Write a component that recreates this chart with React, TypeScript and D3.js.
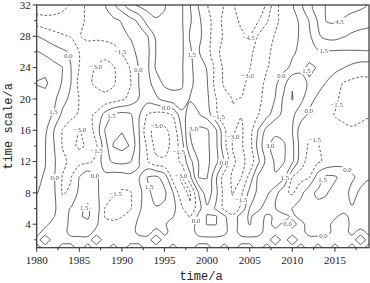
import React, { useMemo } from "react";
import * as d3 from "d3";

// --- Data: wavelet coefficients ---
// one grid column per year
const years = [
  1980, 1981, 1982, 1983, 1984, 1985, 1986, 1987, 1988, 1989,
  1990, 1991, 1992, 1993, 1994, 1995, 1996, 1997, 1998, 1999,
  2000, 2001, 2002, 2003, 2004, 2005, 2006, 2007, 2008, 2009,
  2010, 2011, 2012, 2013, 2014, 2015, 2016, 2017, 2018, 2019,
];

// time scale of each grid row, top to bottom
const scales = [32, 30, 28, 26, 24, 22, 20, 18, 16, 14, 12, 10, 8, 6, 5, 4, 3, 2, 1];

const s32 = [-4.0, -3.8, -3.5, -3.3, -2.9, -2.0, -1.2, -0.7, -0.1, 1.2, 2.5, 4.0, 4.8, 5.0, 4.9, 4.6, 3.8, 3.2, 1.55, -0.1, -1.45, -2.4, -3.1, -4.4, -5.0, -5.2, -5.0, -4.4, -2.0, -0.8, -0.2, 1.2, 2.6, 3.8, 4.6, 4.9, 5.0, 5.0, 4.8, 4.4];
const s30 = [-2.4, -2.6, -2.7, -2.6, -2.3, -1.8, -1.3, -0.9, -0.6, -0.3, 0.1, 0.9, 1.8, 3.8, 4.4, 4.3, 3.8, 3.2, 1.7, 0.3, -0.9, -2.2, -3.4, -4.1, -4.7, -4.9, -4.6, -3.2, -1.8, -1.0, -0.4, 0.2, 1.6, 3.1, 4.6, 4.7, 4.4, 4.0, 3.8, 3.6];
const s28 = [0.05, -0.4, -0.9, -1.3, -1.6, -1.55, -1.3, -1.2, -1.0, -0.7, -0.3, 0.1, 0.8, 1.4, 3.3, 4.0, 3.9, 3.4, 1.3, 0.5, -1.0, -2.2, -3.2, -3.9, -4.3, -4.6, -2.8, -2.0, -1.4, -0.9, -0.5, 0.2, 1.2, 2.8, 3.4, 3.5, 3.1, 2.7, 2.4, 2.2];
const s26 = [1.6, 1.2, 0.7, 0.3, -0.2, -1.55, -2.0, -2.4, -2.6, -2.3, -1.4, -0.5, 0.4, 1.1, 3.05, 3.6, 3.7, 3.3, 1.8, 0.1, -1.0, -2.4, -3.7, -4.0, -3.9, -3.3, -2.5, -1.8, -1.1, -0.7, -0.2, 0.3, 0.9, 1.3, 1.35, 1.3, 1.3, 1.35, 1.4, 1.4];
const s24 = [2.7, 2.5, 2.0, 1.55, 0.05, -1.55, -2.6, -3.1, -3.4, -3.1, -2.4, -1.4, 0.1, 1.2, 3.2, 3.6, 3.6, 3.2, 1.8, 0.8, -0.1, -1.9, -3.3, -3.8, -3.6, -3.05, -2.2, -1.6, -1.0, -0.4, 0.3, 1.2, 1.8, 1.4, 0.9, 0.4, 0.05, -0.4, -0.8, -1.0];
const s22 = [3.05, 3.3, 2.3, 1.4, 0.05, -2.0, -2.8, -3.2, -3.5, -3.2, -2.2, -1.6, 0.05, 1.0, 2.2, 3.3, 3.4, 3.2, 1.9, 0.8, 0.1, -2.0, -3.2, -3.6, -3.4, -2.6, -2.0, -1.2, -0.3, 1.0, 2.9, 2.0, 1.3, 0.6, -0.1, -0.8, -1.6, -1.9, -2.0, -1.9];
const s20 = [2.6, 2.4, 1.9, 0.6, -0.4, -1.55, -2.2, -2.5, -2.6, -2.3, -1.8, -1.0, 0.05, 0.6, 1.2, 2.0, 2.5, 2.6, 1.4, 1.0, 0.3, -1.4, -2.5, -3.05, -2.95, -2.6, -1.9, -0.9, 0.05, 1.8, 3.1, 1.9, 0.5, -0.3, -0.9, -1.3, -1.8, -2.2, -2.2, -2.0];
const s18 = [2.2, 1.9, 1.4, -0.3, -1.0, -1.7, -1.8, -1.3, 0.5, 1.7, 2.0, 1.7, 0.2, -1.6, -2.0, -2.0, -1.4, 1.0, 2.0, 1.6, 0.8, -1.2, -2.5, -2.9, -2.95, -2.5, -1.55, -0.5, 0.9, 1.9, 1.8, 0.7, -0.3, -0.8, -1.2, -1.55, -1.7, -1.8, -1.7, -1.6];
const s16 = [2.0, 1.8, 0.05, -1.55, -2.5, -3.05, -2.6, -0.8, 1.55, 2.6, 2.9, 2.3, 0.05, -2.6, -3.4, -3.3, -2.5, 0.05, 3.05, 3.4, 3.2, 1.8, -1.2, -2.9, -3.2, -2.2, 0.05, 2.0, 2.8, 2.5, 1.55, -0.8, -1.3, -1.3, -1.2, -1.2, -1.3, -1.4, -1.3, -1.2];
const s14 = [1.8, 1.55, 0.1, -1.55, -2.6, -3.3, -2.8, -1.7, 0.8, 3.1, 3.5, 2.9, 0.2, -1.8, -3.5, -3.5, -2.6, -0.8, 2.8, 3.5, 3.3, 2.0, -1.0, -3.1, -3.2, -2.1, 0.5, 2.8, 3.3, 3.2, 1.9, -0.7, -1.7, -1.6, -0.9, -0.8, -0.8, -0.8, -0.7, -0.6];
const s12 = [1.8, 1.55, 0.3, -1.2, -1.8, -2.0, -1.8, -1.2, 1.0, 1.7, 1.9, 1.6, 0.05, -1.4, -2.6, -2.8, -2.4, -1.2, 1.0, 3.05, 3.4, 2.0, 0.05, -2.8, -3.4, -2.5, -0.3, 2.0, 3.2, 3.1, 1.8, -1.0, -2.0, -1.7, -1.2, -0.8, -0.5, -0.3, -0.1, -0.1];
const s10 = [1.7, 1.4, 0.2, -1.55, -1.6, 0.05, 1.2, 0.1, -0.5, -0.8, -0.8, -0.5, -0.1, 1.55, 1.8, 0.9, -2.2, -3.2, -0.4, 3.05, 3.05, 0.3, -2.2, -3.2, -3.05, -1.0, 1.8, 2.8, 2.9, 1.9, -1.55, -2.0, -1.6, 0.8, 1.8, 1.7, 0.9, 0.1, -0.2, -0.1];
const s8 = [1.55, 1.1, 0.3, -1.6, -1.3, 0.4, 1.1, 0.3, -0.8, -1.4, -1.7, -1.6, -0.6, 1.2, 2.0, 1.8, 0.05, -2.6, -3.2, 0.05, 2.5, 0.5, -2.0, -3.1, -1.8, 0.5, 1.9, 1.8, 0.6, -1.2, -1.7, -0.5, 1.2, 1.7, 1.6, 1.0, 0.3, -0.2, 0.1, 0.4];
const s6 = [1.0, 0.6, 0.2, -0.6, 0.1, 1.3, 1.7, 0.8, -1.55, -1.9, -2.0, -1.6, -0.3, 1.0, 1.4, 1.2, 0.5, -1.2, -2.8, -0.5, 1.2, -0.2, -1.8, -2.5, -1.2, 1.55, 1.8, 0.8, 0.05, -0.8, 0.05, 0.9, 1.2, 1.2, 1.0, 0.6, 0.3, 0.05, 0.2, 0.1];
const s5 = [0.8, 0.4, 0.05, -0.5, 0.2, 1.4, 1.7, 0.6, -1.6, -1.8, -1.55, -1.0, 0.05, 0.8, 0.9, 0.5, 0.05, -0.8, -1.6, 0.4, 1.6, 1.7, 0.3, -1.2, 0.8, 1.7, 0.9, -0.3, 0.2, 0.4, -0.2, 0.3, 0.6, 0.8, 0.5, 0.1, -0.2, 0.2, 0.4, 0.2];
const s4 = [0.6, 0.2, -0.3, -0.6, 0.3, 1.0, 1.2, 0.2, -1.0, -1.2, -0.8, -0.4, 0.2, 0.5, 0.4, 0.1, -0.4, -0.6, -0.8, 0.6, 1.6, 1.6, 0.4, -0.8, 0.6, 1.6, 0.6, -0.4, 0.3, -0.2, 0.3, -0.3, 0.4, 0.6, 0.2, -0.2, -0.4, 0.2, 0.5, 0.3];
const s3 = [0.3, -0.3, -0.3, -0.4, 0.3, 0.4, 0.4, -0.3, -0.4, -0.4, -0.3, -0.3, 0.2, 0.3, -0.3, 0.2, -0.3, -0.3, -0.4, 0.3, 0.5, 0.5, 0.2, -0.4, 0.3, 0.5, 0.3, -0.3, -0.3, -0.2, -0.3, -0.3, 0.3, 0.3, 0.2, -0.2, -0.3, 0.2, -0.3, 0.2];
const s2 = [-0.3, 0.5, -0.3, -0.3, -0.3, -0.3, -0.3, 0.5, -0.3, -0.3, -0.3, -0.3, -0.3, -0.3, 0.5, -0.3, -0.3, -0.3, -0.3, -0.3, -0.3, -0.3, -0.3, -0.3, -0.3, -0.3, -0.3, -0.3, 0.5, -0.3, 0.5, -0.3, -0.3, -0.3, -0.3, -0.3, -0.3, -0.3, 0.5, -0.3];
const s1 = [0.3, -0.3, -0.3, 0.3, 0.3, -0.3, 0.3, -0.3, -0.3, 0.3, -0.3, 0.3, 0.3, -0.3, -0.3, -0.3, 0.3, -0.3, -0.3, 0.3, 0.3, -0.3, 0.3, -0.3, 0.3, 0.3, -0.3, 0.3, -0.3, -0.3, -0.3, 0.3, -0.3, 0.3, -0.3, 0.3, -0.3, 0.3, -0.3, 0.3];

const rows = [s32, s30, s28, s26, s24, s22, s20, s18, s16, s14, s12, s10, s8, s6, s5, s4, s3, s2, s1];

const levels = [-4.5, -3, -1.5, 0, 1.5, 3, 4.5];

const xTicks = [1980, 1985, 1990, 1995, 2000, 2005, 2010, 2015];
const xMinor = [1982.5, 1987.5, 1992.5, 1997.5, 2002.5, 2007.5, 2012.5, 2017.5];
const yTicks = [4, 8, 12, 16, 20, 24, 28, 32];
const yMinor = [2, 6, 10, 14, 18, 22, 26, 30];

const W = 370;
const H = 283;
const L = 36.7;
const R = 369;
const T = 5;
const B = 247.7;

const App: React.FC = () => {
  const x = d3.scaleLinear().domain([1980, 2019]).range([L, R]);
  const y = d3.scaleLinear().domain([1, 32]).range([B, T]);

  const { lines, labels } = useMemo(() => {
    const nx = years.length;
    const ny = scales.length;
    // grid index -> data coordinates (cell centres sit at i + 0.5)
    const colToYear = d3.scaleLinear().domain([0.5, nx - 0.5]).range([years[0], years[nx - 1]]);
    const rowToScale = d3.scaleLinear().domain(scales.map((_, i) => i + 0.5)).range(scales);

    const contours = d3.contours().size([nx, ny]).thresholds(levels)(rows.flat());
    const fmt = d3.format(".1f");
    const smooth = d3.line().curve(d3.curveCatmullRomClosed.alpha(0.5));
    const straight = d3.line().curve(d3.curveLinearClosed);

    const inside = (p: number[]) => p[0] > L + 4 && p[0] < R - 5 && p[1] > T + 5 && p[1] < B - 4;

    const outLines: { d: string; value: number }[] = [];
    const outLabels: { x: number; y: number; text: string; w: number }[] = [];
    const boxes: { x0: number; y0: number; x1: number; y1: number }[] = [];

    const tryLabel = (px: number, py: number, text: string) => {
      const w = text.length * 3.4 + 1;
      const b = { x0: px - w / 2 - 3, y0: py - 6, x1: px + w / 2 + 3, y1: py + 6 };
      if (boxes.some((o) => b.x0 < o.x1 && b.x1 > o.x0 && b.y0 < o.y1 && b.y1 > o.y0)) return;
      boxes.push(b);
      outLabels.push({ x: px, y: py, text, w });
    };

    contours.forEach((c) => {
      c.coordinates.forEach((poly) =>
        poly.forEach((ring) => {
          const pts = ring.map((p) => [x(colToYear(p[0])), y(rowToScale(p[1]))]);
          const uniq = pts.slice(0, -1);
          if (uniq.length < 2) return;
          let perim = 0;
          for (let i = 1; i < pts.length; i++) perim += Math.hypot(pts[i][0] - pts[i - 1][0], pts[i][1] - pts[i - 1][1]);
          // small loops keep their corners (diamonds), long lines are smoothed
          const gen = perim < 70 ? straight : smooth;
          outLines.push({ d: gen(uniq as [number, number][]) || "", value: c.value });

          // split into visible runs to put labels on
          const start = uniq.findIndex((p) => !inside(p));
          const seq = start < 0 ? uniq.concat([uniq[0]]) : uniq.slice(start).concat(uniq.slice(0, start + 1));
          const runs: number[][][] = [];
          let cur: number[][] = [];
          seq.forEach((p) => {
            if (inside(p)) cur.push(p);
            else {
              if (cur.length > 1) runs.push(cur);
              cur = [];
            }
          });
          if (cur.length > 1) runs.push(cur);

          runs.forEach((run) => {
            const cum = [0];
            for (let i = 1; i < run.length; i++) {
              cum.push(cum[i - 1] + Math.hypot(run[i][0] - run[i - 1][0], run[i][1] - run[i - 1][1]));
            }
            const len = cum[cum.length - 1];
            if (len < 22) return;
            const spots = len < 150 ? [len * 0.5] : d3.range(60, len - 25, 125);
            spots.forEach((s) => {
              const i = Math.max(1, d3.bisectLeft(cum, s));
              const t = (s - cum[i - 1]) / (cum[i] - cum[i - 1] || 1);
              const px = run[i - 1][0] + t * (run[i][0] - run[i - 1][0]);
              const py = run[i - 1][1] + t * (run[i][1] - run[i - 1][1]);
              tryLabel(px, py, fmt(c.value));
            });
          });
        })
      );
    });
    return { lines: outLines, labels: outLabels };
  }, []);

  return (
    <svg width={W} height={H} style={{ display: "block", position: "absolute", left: 0, top: 0, background: "#fff" }}>
      <defs>
        <clipPath id="plot-clip">
          <rect x={L} y={T} width={R - L} height={B - T} />
        </clipPath>
        {/* identity filter: labels get drawn off-screen, so they are greyscale antialiased */}
        <filter id="flat" x="0" y="0" width="1" height="1">
          <feColorMatrix type="identity" />
        </filter>
      </defs>

      <g clipPath="url(#plot-clip)">
        {lines.map((l, i) => (
          <path
            key={i}
            d={l.d}
            fill="none"
            stroke="#3a3a3a"
            strokeWidth={0.8}
            strokeDasharray={l.value < 0 ? "2.6,1.8" : undefined}
          />
        ))}
      </g>
      <g filter="url(#flat)">
        {labels.map((lb, i) => (
          <g key={i}>
            <rect x={lb.x - lb.w / 2} y={lb.y - 3.5} width={lb.w} height={7} fill="#fff" />
            <text
              x={lb.x}
              y={lb.y + 2.4}
              textAnchor="middle"
              fontSize={6.8}
              fontFamily="Liberation Serif, serif"
              fill="#555"
            >
              {lb.text}
            </text>
          </g>
        ))}
      </g>

      {/* frame */}
      <rect x={L} y={T} width={R - L} height={B - T} fill="none" stroke="#333" strokeWidth={1.2} />

      {/* y axis ticks */}
      {yTicks.map((t) => (
        <g key={"y" + t}>
          <line x1={L - 4} x2={L} y1={y(t)} y2={y(t)} stroke="#333" strokeWidth={1} />
          <text
            x={L - 6}
            y={y(t) + 3.8}
            textAnchor="end"
            fontSize={11}
            fontFamily="Liberation Serif, serif"
            fill="#222"
          >
            {t}
          </text>
        </g>
      ))}
      {yMinor.map((t) => (
        <line key={"ym" + t} x1={L - 2.5} x2={L} y1={y(t)} y2={y(t)} stroke="#333" strokeWidth={1} />
      ))}

      {/* x axis ticks */}
      {xTicks.map((t) => (
        <g key={"x" + t}>
          <line x1={x(t)} x2={x(t)} y1={B} y2={B + 4} stroke="#333" strokeWidth={1} />
          <text
            x={x(t)}
            y={B + 16.5}
            textAnchor="middle"
            fontSize={11}
            fontFamily="Liberation Serif, serif"
            fill="#222"
          >
            {t}
          </text>
        </g>
      ))}
      {xMinor.map((t) => (
        <line key={"xm" + t} x1={x(t)} x2={x(t)} y1={B} y2={B + 2.5} stroke="#333" strokeWidth={1} />
      ))}

      {/* axis titles */}
      <text x={201} y={280} textAnchor="middle" fontSize={12} fontFamily="Liberation Mono, monospace" fill="#222">
        time/a
      </text>
      <text
        transform={`translate(12,${(T + B) / 2}) rotate(-90)`}
        textAnchor="middle"
        fontSize={12}
        fontFamily="Liberation Mono, monospace"
        fill="#222"
      >
        time scale/a
      </text>
    </svg>
  );
};

export default App;
